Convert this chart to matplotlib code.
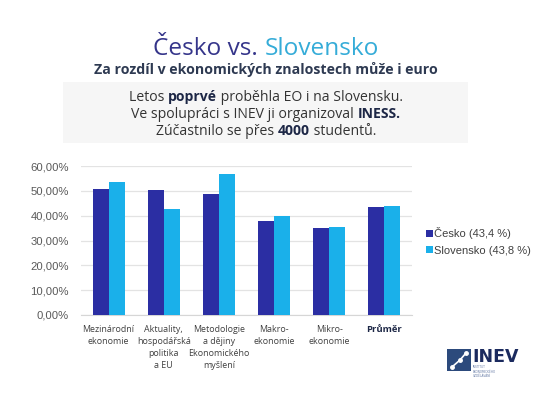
import matplotlib
matplotlib.use("Agg")
import matplotlib.pyplot as plt
from matplotlib.patches import Rectangle
from matplotlib.font_manager import FontProperties
from matplotlib.ticker import FuncFormatter
import numpy as np

# data
kategorie = ["Mezinárodní\nekonomie", "Aktuality,\nhospodářská\npolitika\na EU",
             "Metodologie\na dějiny\nEkonomického\nmyšlení", "Makro-\nekonomie",
             "Mikro-\nekonomie", "Průměr"]
cesko = [50.6, 50.2, 48.6, 38.0, 34.9, 43.4]
slovensko = [53.7, 42.7, 56.6, 40.0, 35.6, 43.8]
legenda = ["Česko (43,4 %)", "Slovensko (43,8 %)"]

c_cz = "#2b2ea3"
c_sk = "#1ab0ea"
W, H = 560, 397

fig = plt.figure(figsize=(5.6, 3.97), dpi=100)
ax = fig.add_axes([81 / W, 1 - 315 / H, 331 / W, 149 / H])

x = np.arange(len(kategorie))
bw = 0.29
b1 = ax.bar(x - bw / 2, cesko, bw, color=c_cz, zorder=3, label=legenda[0])
b2 = ax.bar(x + bw / 2, slovensko, bw, color=c_sk, zorder=3, label=legenda[1])

ax.set_xlim(-0.5, len(kategorie) - 0.5)
ax.set_ylim(0, 60)
ax.set_yticks(np.arange(0, 61, 10))
ax.yaxis.set_major_formatter(FuncFormatter(lambda v, p: f"{v:.2f}".replace(".", ",") + "%"))
ax.grid(axis="y", color="#e3e3e3", lw=0.9, zorder=0)
for s in ["top", "right", "left"]:
    ax.spines[s].set_visible(False)
ax.spines["bottom"].set_color("#d6d6d6")
ax.tick_params(axis="both", length=0)
ax.tick_params(axis="y", labelsize=8.1, labelcolor="#595959", pad=9)
for t in ax.get_yticklabels():
    t.set_fontfamily("Liberation Sans")
ax.set_xticks(x)
ax.set_xticklabels(kategorie, fontsize=6.4, family="Open Sans", color="#404040",
                   linespacing=1.45, va="top")
ax.tick_params(axis="x", pad=7)
lab = ax.get_xticklabels()[-1]
lab.set_fontweight("bold")
lab.set_color("#1d2746")
lab.set_fontsize(6.8)

leg = fig.legend(handles=[b1, b2], loc="center left", bbox_to_anchor=(416 / W, 1 - 241.5 / H),
                 frameon=False, prop=FontProperties(family="Liberation Sans", size=8),
                 handlelength=0.6, handleheight=0.6, handletextpad=0.15, labelspacing=0.55)
for t in leg.get_texts():
    t.set_color("#404040")

renderer = fig.canvas.get_renderer()


def width(s, fp):
    w1 = renderer.get_text_width_height_descent(s + "|", fp, ismath=False)[0]
    w2 = renderer.get_text_width_height_descent("|", fp, ismath=False)[0]
    return w1 - w2


def mixed_line(parts, cx, ybase, size):
    fps = [FontProperties(family="Open Sans", size=size, weight=wt) for _, wt, _ in parts]
    widths = [width(s, fp) for (s, _, _), fp in zip(parts, fps)]
    xs = cx - sum(widths) / 2
    for (s, wt, col), fp, w in zip(parts, fps, widths):
        fig.text(xs / W, ybase, s, fontproperties=fp, color=col, ha="left", va="baseline")
        xs += w


cx = 266
# title
mixed_line([("Česko vs. ", "normal", "#35358a"), ("Slovensko", "normal", "#35acd8")],
           cx, 1 - 55 / H, 17.6)
fig.text(cx / W, 1 - 74 / H, "Za rozdíl v ekonomických znalostech může i euro",
         family="Open Sans", weight="bold", size=10.2, color="#2e3a52",
         ha="center", va="baseline")

# grey box with info
fig.patches.append(Rectangle((63 / W, 1 - 143 / H), 405 / W, 61 / H,
                             transform=fig.transFigure, facecolor="#f6f6f6",
                             edgecolor="none", zorder=0))
txt = "#333333"
bold = "#1d2746"
mixed_line([("Letos ", "normal", txt), ("poprvé", "bold", bold),
            (" proběhla EO i na Slovensku.", "normal", txt)], cx, 1 - 100.7 / H, 10.1)
mixed_line([("Ve spolupráci s INEV ji organizoval ", "normal", txt),
            ("INESS.", "bold", bold)], cx, 1 - 117.7 / H, 10.1)
mixed_line([("Zúčastnilo se přes ", "normal", txt), ("4000", "bold", bold),
            (" studentů.", "normal", txt)], cx, 1 - 135 / H, 10.1)

# INEV logo
fig.patches.append(Rectangle((447 / W, 1 - 371 / H), 24 / W, 22 / H,
                             transform=fig.transFigure, facecolor="#2c4a7c",
                             edgecolor="none"))
fig.lines.append(plt.Line2D([452 / W, 460 / W, 466 / W], [1 - 367 / H, 1 - 360 / H, 1 - 353 / H],
                            transform=fig.transFigure, color="white", lw=1.2,
                            marker="o", ms=2.5, mfc="white"))
fig.text(472 / W, 1 - 361.5 / H, "INEV", family="DejaVu Sans", weight="bold", size=12.5,
         color="#1b2a5e", ha="left", va="baseline")
fig.text(473 / W, 1 - 365.5 / H, "INSTITUT\nEKONOMICKÉHO\nVZDĚLÁVÁNÍ", family="DejaVu Sans",
         size=2.1, color="#6a7fa8", ha="left", va="top", linespacing=1.1)

fig.savefig("out.png", dpi=100, facecolor="white")
